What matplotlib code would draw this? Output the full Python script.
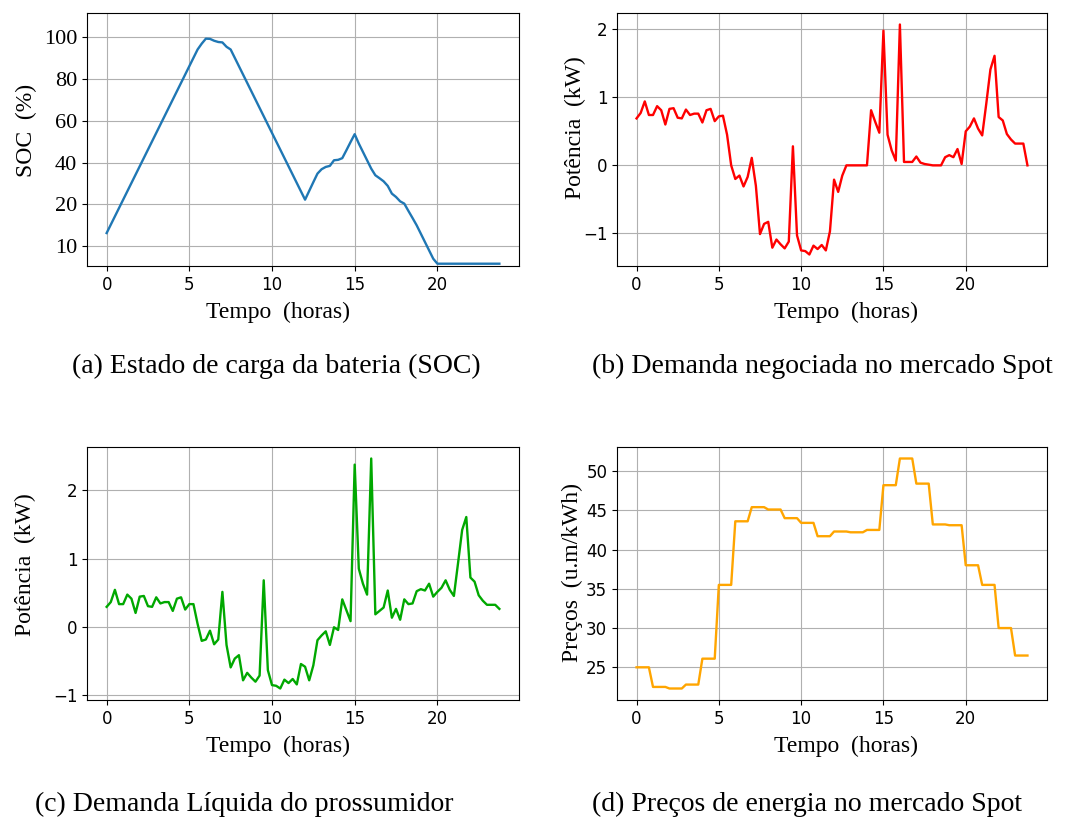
import numpy as np
import matplotlib
matplotlib.use("Agg")
import matplotlib.pyplot as plt

# 15-minute resolution over one day
hours = np.arange(96) * 0.25

# battery state of charge (%)
soc = [6.2, 10.2, 14.2, 18.2, 22.2, 26.2, 30.2, 34.2, 38.2, 42.2,
       46.2, 50.2, 54.2, 58.2, 62.2, 66.2, 70.2, 74.2, 78.2, 82.2,
       86.2, 90.2, 94.2, 97.0, 99.4, 99.3, 98.4, 97.8, 97.6, 95.5,
       94.2, 90.2, 86.2, 82.2, 78.2, 74.2, 70.2, 66.2, 62.2, 58.2,
       54.2, 50.2, 46.2, 42.2, 38.2, 34.2, 30.2, 26.2, 22.2, 26.4,
       30.6, 34.7, 36.8, 37.9, 38.4, 41.1, 41.3, 42.1, 45.9, 49.8,
       53.6, 49.1, 45.1, 41.1, 37.1, 33.9, 32.5, 31.0, 28.8, 25.1,
       23.5, 21.4, 20.3, 16.8, 13.4, 9.9, 5.9, 1.9, -2.1, -6.1,
       -8.5, -8.5, -8.5, -8.5, -8.5, -8.5, -8.5, -8.5, -8.5, -8.5,
       -8.5, -8.5, -8.5, -8.5, -8.5, -8.5]
soc_ticks = [0, 20, 40, 60, 80, 100]
soc_tick_labels = ["10", "20", "40", "60", "80", "100"]

# power traded on the spot market (kW)
spot_power = [0.69, 0.77, 0.94, 0.74, 0.74, 0.87, 0.81, 0.60, 0.83, 0.84,
              0.70, 0.69, 0.82, 0.74, 0.76, 0.76, 0.63, 0.81, 0.83, 0.65,
              0.72, 0.73, 0.45, 0.00, -0.20, -0.15, -0.31, -0.17, 0.11, -0.30,
              -1.01, -0.86, -0.83, -1.21, -1.09, -1.16, -1.22, -1.12, 0.28, -1.03,
              -1.25, -1.26, -1.31, -1.18, -1.23, -1.17, -1.25, -0.97, -0.21, -0.39,
              -0.15, 0.00, 0.00, 0.00, 0.00, 0.00, 0.00, 0.81, 0.64, 0.48,
              1.98, 0.45, 0.22, 0.07, 2.07, 0.05, 0.05, 0.05, 0.13, 0.04,
              0.02, 0.01, 0.00, 0.00, 0.00, 0.12, 0.15, 0.12, 0.24, 0.02,
              0.50, 0.57, 0.69, 0.54, 0.44, 0.91, 1.41, 1.61, 0.71, 0.66,
              0.46, 0.38, 0.32, 0.32, 0.32, 0.00]

# prosumer net demand (kW)
net_demand = [0.29, 0.36, 0.54, 0.33, 0.33, 0.47, 0.41, 0.20, 0.44, 0.45,
              0.30, 0.29, 0.43, 0.34, 0.36, 0.36, 0.23, 0.41, 0.43, 0.25,
              0.33, 0.33, 0.04, -0.21, -0.19, -0.06, -0.26, -0.19, 0.51, -0.27,
              -0.60, -0.47, -0.42, -0.79, -0.68, -0.75, -0.81, -0.72, 0.68, -0.64,
              -0.86, -0.87, -0.91, -0.78, -0.83, -0.77, -0.85, -0.55, -0.59, -0.79,
              -0.57, -0.20, -0.13, -0.07, -0.27, -0.01, -0.05, 0.40, 0.24, 0.08,
              2.38, 0.85, 0.63, 0.47, 2.47, 0.18, 0.23, 0.28, 0.53, 0.13,
              0.26, 0.10, 0.40, 0.33, 0.34, 0.52, 0.55, 0.53, 0.63, 0.44,
              0.51, 0.57, 0.68, 0.54, 0.45, 0.93, 1.42, 1.61, 0.72, 0.66,
              0.46, 0.38, 0.32, 0.32, 0.32, 0.26]

# hourly spot prices (u.m/kWh), held constant within each hour
hourly_price = [25.0, 22.5, 22.3, 22.8, 26.1, 35.5, 43.6, 45.4, 45.1, 44.0,
                43.4, 41.7, 42.3, 42.2, 42.5, 48.2, 51.6, 48.4, 43.2, 43.1,
                38.0, 35.5, 30.0, 26.5]
price = np.repeat(hourly_price, 4)

captions = ["(a) Estado de carga da bateria (SOC)",
            "(b) Demanda negociada no mercado Spot",
            "(c) Demanda Líquida do prossumidor",
            "(d) Preços de energia no mercado Spot"]

W, H = 1067, 823
fig = plt.figure(figsize=(W / 100, H / 100), dpi=100)
SERIF = "Liberation Serif"
LABEL_SIZE = 17
CAPTION_SIZE = 20
TICK_SIZE = 12


def make_axes(left, top, right, bottom):
    return fig.add_axes([left / W, 1 - bottom / H, (right - left) / W, (bottom - top) / H])


def style(ax, ylabel, xlab_x, ylab_x, ylab_y):
    ax.grid(True, color="#b0b0b0", linewidth=0.8)
    ax.set_axisbelow(True)
    ax.set_xlabel("Tempo  (horas)", fontfamily=SERIF, fontsize=LABEL_SIZE)
    ax.set_ylabel(ylabel, fontfamily=SERIF, fontsize=LABEL_SIZE)
    ax.xaxis.set_label_coords(xlab_x, -0.143)
    ax.yaxis.set_label_coords(ylab_x, ylab_y)
    ax.tick_params(labelsize=TICK_SIZE)
    ax.set_xticks([0, 5, 10, 15, 20])


ax_a = make_axes(87, 13, 519, 266)
ax_b = make_axes(617, 13, 1047, 266)
ax_c = make_axes(87, 447, 519, 700)
ax_d = make_axes(617, 447, 1047, 700)

ax_a.plot(hours, soc, color="#1f77b4", linewidth=1.7)
style(ax_a, "SOC  (%)", 0.442, -0.116, 0.534)
ax_a.set_ylim(-9.6, 111.7)
ax_a.set_yticks(soc_ticks)
ax_a.set_yticklabels(soc_tick_labels, fontfamily=SERIF, fontsize=16)

ax_b.plot(hours, spot_power, color="red", linewidth=1.7)
style(ax_b, "Potência  (kW)", 0.533, -0.072, 0.545)

ax_c.plot(hours, net_demand, color="#00a800", linewidth=1.7)
style(ax_c, "Potência  (kW)", 0.442, -0.117, 0.534)

ax_d.plot(hours, price, color="orange", linewidth=1.7)
style(ax_d, "Preços  (u.m/kWh)", 0.533, -0.079, 0.502)

for text, x, y in zip(captions, [72, 592, 35, 592], [366, 366, 804, 804]):
    fig.text(x / W, 1 - y / H, text, ha="left", va="center",
             fontfamily=SERIF, fontsize=CAPTION_SIZE)

fig.savefig("out.png", dpi=100)
